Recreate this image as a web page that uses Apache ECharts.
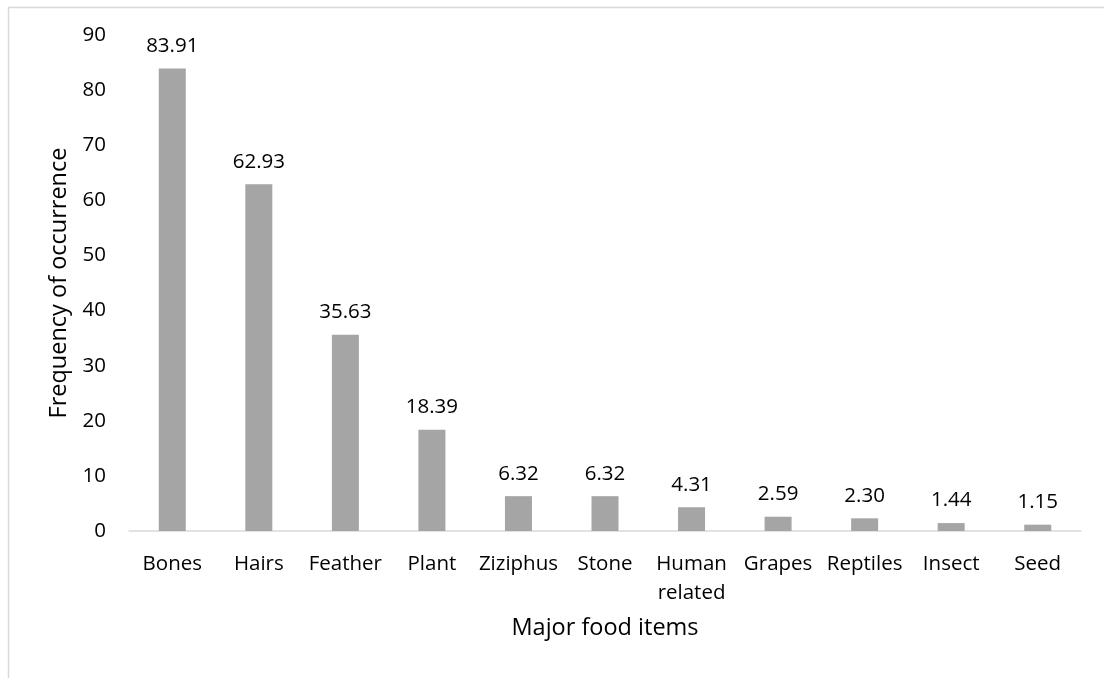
<!DOCTYPE html>
<html>
<head>
<meta charset="utf-8">
<script src="https://cdn.jsdelivr.net/npm/echarts@6/dist/echarts.min.js"></script>
<style>
  html, body { margin: 0; padding: 0; background: #fff; }
  #chart { width: 1105px; height: 678px; }
</style>
</head>
<body>
<div id="chart"></div>
<script>
// Major food items and their frequency of occurrence (%)
const categories = ['Bones', 'Hairs', 'Feather', 'Plant', 'Ziziphus', 'Stone', 'Human related', 'Grapes', 'Reptiles', 'Insect', 'Seed'];
const frequency = [83.91, 62.93, 35.63, 18.39, 6.32, 6.32, 4.31, 2.59, 2.30, 1.44, 1.15];
const yTicks = { min: 0, max: 90, interval: 10 };

const FONT = '"Open Sans", "Liberation Sans", sans-serif';
const TEXT = '#000000';

const chart = echarts.init(document.getElementById('chart'), null, { renderer: 'canvas' });

chart.setOption({
  backgroundColor: '#ffffff',
  animation: false,
  graphic: [{
    type: 'polyline',
    shape: { points: [[8.5, 678], [8.5, 7.5], [1104, 7.5]] },
    style: { stroke: '#d9d9d9', lineWidth: 1.5, fill: null },
    silent: true
  }],
  grid: { left: 129, right: 24, top: 35, bottom: 147, containLabel: false },
  xAxis: {
    type: 'category',
    data: categories,
    name: 'Major food items',
    nameLocation: 'middle',
    nameGap: 85,
    nameTextStyle: { fontFamily: FONT, fontSize: 23.5, color: TEXT },
    axisLine: { show: true, lineStyle: { color: '#d9d9d9', width: 1.5 } },
    axisTick: { show: false },
    axisLabel: {
      interval: 0,
      margin: 19,
      fontFamily: FONT,
      fontSize: 20.5,
      lineHeight: 29,
      color: TEXT,
      formatter: v => v.replace(' ', '\n')
    },
    splitLine: { show: false }
  },
  yAxis: {
    type: 'value',
    min: yTicks.min,
    max: yTicks.max,
    interval: yTicks.interval,
    name: 'Frequency of occurrence',
    nameLocation: 'middle',
    nameGap: 52,
    nameRotate: 90,
    nameTextStyle: { fontFamily: FONT, fontSize: 23.5, color: TEXT },
    axisLine: { show: false },
    axisTick: { show: false },
    splitLine: { show: false },
    axisLabel: { margin: 23, fontFamily: FONT, fontSize: 20.5, color: TEXT }
  },
  series: [{
    type: 'bar',
    data: frequency,
    barWidth: 27,
    itemStyle: { color: '#a5a5a5' },
    label: {
      show: true,
      position: 'top',
      distance: 12,
      fontFamily: FONT,
      fontSize: 20.5,
      color: TEXT,
      formatter: p => p.value.toFixed(2)
    }
  }]
});
</script>
</body>
</html>
